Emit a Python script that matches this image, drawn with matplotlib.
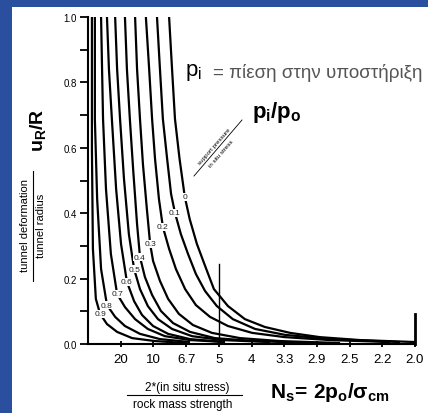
import matplotlib
matplotlib.use("Agg")
import matplotlib.pyplot as plt
from matplotlib.patches import Rectangle
from matplotlib.lines import Line2D

plt.rcParams['font.family'] = ['Liberation Sans', 'DejaVu Sans']
plt.rcParams['mathtext.fontset'] = 'custom'
plt.rcParams['mathtext.rm'] = 'Liberation Sans'
plt.rcParams['mathtext.it'] = 'Liberation Sans:italic'
plt.rcParams['mathtext.bf'] = 'Liberation Sans:bold'

# ---- data (x = sigma_cm / p_o, y = u_R / R) ----
curve_labels = ["0", "0.1", "0.2", "0.3", "0.4", "0.5", "0.6", "0.7", "0.8", "0.9"]

x_p00 = [0.248, 0.257, 0.266, 0.280, 0.296, 0.311, 0.333, 0.358, 0.385, 0.428, 0.480, 0.541, 0.618, 0.709, 0.832, 1.000]
y_p00 = [1.000, 0.841, 0.688, 0.566, 0.450, 0.382, 0.306, 0.239, 0.168, 0.116, 0.076, 0.052, 0.034, 0.021, 0.012, 0.006]

x_p01 = [0.211, 0.220, 0.229, 0.242, 0.254, 0.266, 0.284, 0.306, 0.330, 0.358, 0.394, 0.443, 0.511, 0.602, 0.740, 0.954]
y_p01 = [1.000, 0.841, 0.688, 0.566, 0.459, 0.401, 0.336, 0.275, 0.214, 0.162, 0.116, 0.076, 0.046, 0.028, 0.015, 0.006]

x_p02 = [0.177, 0.187, 0.196, 0.205, 0.217, 0.229, 0.248, 0.269, 0.297, 0.330, 0.373, 0.428, 0.502, 0.602, 0.740, 0.924]
y_p02 = [1.000, 0.841, 0.688, 0.566, 0.443, 0.358, 0.291, 0.229, 0.168, 0.119, 0.083, 0.055, 0.034, 0.021, 0.012, 0.006]

x_p03 = [0.144, 0.150, 0.159, 0.168, 0.180, 0.190, 0.199, 0.220, 0.245, 0.278, 0.321, 0.379, 0.465, 0.587, 0.771]
y_p03 = [1.000, 0.841, 0.688, 0.550, 0.413, 0.306, 0.254, 0.193, 0.138, 0.092, 0.058, 0.034, 0.018, 0.009, 0.003]

x_p04 = [0.113, 0.119, 0.128, 0.138, 0.150, 0.159, 0.174, 0.196, 0.223, 0.260, 0.312, 0.388, 0.511, 0.679]
y_p04 = [1.000, 0.841, 0.688, 0.535, 0.367, 0.266, 0.205, 0.150, 0.101, 0.064, 0.037, 0.018, 0.009, 0.003]

x_p05 = [0.083, 0.089, 0.098, 0.110, 0.125, 0.141, 0.159, 0.183, 0.214, 0.257, 0.318, 0.410, 0.557]
y_p05 = [1.000, 0.841, 0.688, 0.505, 0.336, 0.229, 0.168, 0.116, 0.076, 0.046, 0.024, 0.012, 0.006]

x_p06 = [0.058, 0.064, 0.073, 0.086, 0.101, 0.119, 0.141, 0.165, 0.199, 0.245, 0.312, 0.419]
y_p06 = [1.000, 0.841, 0.688, 0.474, 0.306, 0.190, 0.131, 0.089, 0.055, 0.031, 0.015, 0.006]

x_p07 = [0.040, 0.043, 0.046, 0.055, 0.070, 0.089, 0.113, 0.144, 0.183, 0.235, 0.312, 0.419]
y_p07 = [1.000, 0.841, 0.688, 0.474, 0.275, 0.153, 0.113, 0.076, 0.046, 0.024, 0.012, 0.006]

x_p08 = [0.021, 0.021, 0.021, 0.028, 0.040, 0.058, 0.083, 0.113, 0.159, 0.220, 0.312]
y_p08 = [1.000, 0.841, 0.688, 0.443, 0.229, 0.119, 0.083, 0.055, 0.031, 0.015, 0.006]

x_p09 = [0.012, 0.012, 0.015, 0.024, 0.037, 0.058, 0.089, 0.135, 0.205, 0.297]
y_p09 = [1.000, 0.596, 0.291, 0.138, 0.092, 0.061, 0.037, 0.018, 0.009, 0.003]

curves_x = [x_p00, x_p01, x_p02, x_p03, x_p04, x_p05, x_p06, x_p07, x_p08, x_p09]
curves_y = [y_p00, y_p01, y_p02, y_p03, y_p04, y_p05, y_p06, y_p07, y_p08, y_p09]
label_index = [4, 5, 5, 5, 5, 5, 5, 5, 5, 4]

x_ticks = [0.1, 0.2, 0.3, 0.4, 0.5, 0.6, 0.7, 0.8, 0.9, 1.0]
x_tick_labels = ["20", "10", "6.7", "5", "4", "3.3", "2.9", "2.5", "2.2", "2.0"]
y_major = [0.0, 0.2, 0.4, 0.6, 0.8, 1.0]
y_minor = [0.1, 0.3, 0.5, 0.7, 0.9]
marker_x1, marker_y1 = 0.4, 0.245
marker_x2, marker_y2 = 1.0, 0.092

# ---- figure ----
W, H = 428, 414
fig = plt.figure(figsize=(W / 100, H / 100), dpi=100)
fig.patch.set_facecolor('#2a4f9e')


def fx(px):
    return px / W


def fy(py):
    return 1 - py / H


bg = fig.add_axes([0, 0, 1, 1], zorder=-1)
bg.set_xlim(0, 1)
bg.set_ylim(0, 1)
bg.axis('off')
bg.add_patch(Rectangle((fx(12), 0), 1 - fx(12), fy(8), facecolor='white', edgecolor='none'))

ax = fig.add_axes([fx(88), fy(345), (415 - 88) / W, (345 - 18) / H], zorder=1)
ax.set_facecolor('none')
ax.set_xlim(0, 1.0)
ax.set_ylim(0, 1.0)

for xs, ys, lab, k in zip(curves_x, curves_y, curve_labels, label_index):
    ax.plot(xs, ys, color='black', lw=1.6, solid_capstyle='butt')
    ax.text(xs[k], ys[k], lab, fontsize=6, ha='center', va='center', color='#222222',
            bbox=dict(facecolor='white', edgecolor='none', pad=0.6), zorder=5)

ax.plot([marker_x1, marker_x1], [0, marker_y1], color='black', lw=1.0, clip_on=False)
ax.plot([marker_x2, marker_x2], [0, marker_y2], color='black', lw=2.0, clip_on=False)

for s in ['top', 'right']:
    ax.spines[s].set_visible(False)
for s in ['left', 'bottom']:
    ax.spines[s].set_linewidth(1.5)

ax.set_yticks(y_major)
ax.set_yticklabels([f"{v:.1f}" for v in y_major])
ax.set_yticks(y_minor, minor=True)
ax.tick_params(axis='y', which='both', direction='out', length=6, width=1.3, labelsize=7, pad=2)
ax.set_xticks(x_ticks)
ax.set_xticklabels(x_tick_labels)
ax.tick_params(axis='x', which='major', direction='inout', length=5, width=1.3, labelsize=9.5, pad=4)

# ---- annotations ----
fig.text(fx(185), fy(76), r'$\mathregular{p_i}$', fontsize=16, ha='left', va='baseline')
fig.text(fx(213), fy(78), '= πίεση στην υποστήριξη', fontsize=13.5, color='#555555',
         ha='left', va='baseline')
fig.text(fx(252), fy(118), r'$\mathbf{p_i/p_o}$', fontsize=16, ha='left', va='baseline')

fig.text(fx(214), fy(147), 'support pressure', fontsize=4.5, rotation=49,
         ha='center', va='center', rotation_mode='anchor')
fig.text(fx(221), fy(154), 'in situ stress', fontsize=4.5, rotation=49,
         ha='center', va='center', rotation_mode='anchor')
bg.add_line(Line2D([fx(194), fx(242)], [fy(177), fy(121)], color='black', lw=0.6))

fig.text(fx(38), fy(130), r'$\mathbf{u_R/R}$', fontsize=14, rotation=90, ha='center', va='center')
fig.text(fx(25), fy(226), 'tunnel deformation', fontsize=8, rotation=90, ha='center', va='center')
bg.add_line(Line2D([fx(33), fx(33)], [fy(172), fy(282)], color='black', lw=0.8))
fig.text(fx(41), fy(226), 'tunnel radius', fontsize=8, rotation=90, ha='center', va='center')

fig.text(fx(187), fy(388), '2*(in situ stress)', fontsize=8.5, ha='center', va='center')
bg.add_line(Line2D([fx(127), fx(242)], [fy(396), fy(396)], color='black', lw=0.8))
fig.text(fx(183), fy(405), 'rock mass strength', fontsize=8.5, ha='center', va='center')
fig.text(fx(270), fy(398), r'$\mathbf{N_s\!=\,2p_o/\sigma_{cm}}$', fontsize=15,
         ha='left', va='baseline')

fig.savefig('out.png', dpi=100, facecolor=fig.get_facecolor())
